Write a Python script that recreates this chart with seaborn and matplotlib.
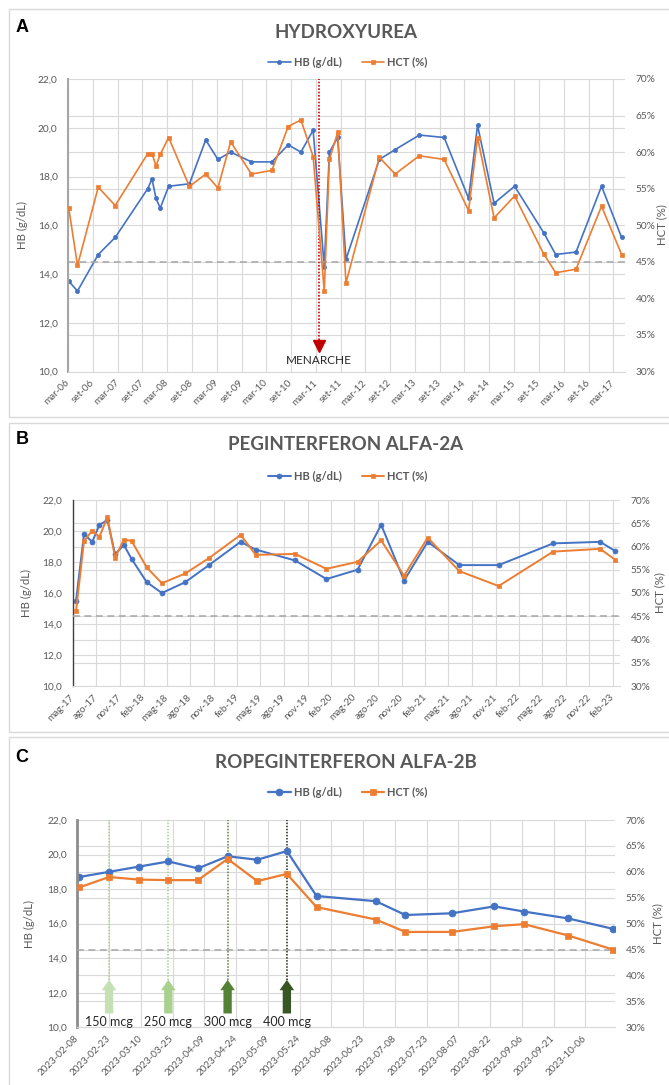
import numpy as np
import pandas as pd
import matplotlib
matplotlib.use("Agg")
import matplotlib.pyplot as plt
import matplotlib.dates as mdates
from matplotlib.ticker import FuncFormatter, FixedLocator
from matplotlib.patches import Rectangle
import seaborn as sns

# ---------------- DATA ----------------
# Panel A - Hydroxyurea
A_dates = ["2006-03-07", "2006-05-10", "2006-10-10", "2007-02-12", "2007-10-10", "2007-11-10",
           "2007-12-10", "2008-01-10", "2008-03-12", "2008-08-12", "2008-12-10", "2009-03-10",
           "2009-06-12", "2009-11-12", "2010-04-12", "2010-08-10", "2010-11-12", "2011-02-10",
           "2011-05-03", "2011-06-10", "2011-08-10", "2011-10-10", "2012-06-12", "2012-10-06",
           "2013-04-03", "2013-10-03", "2014-04-01", "2014-06-06", "2014-10-06", "2015-03-06",
           "2015-10-06", "2016-01-03", "2016-06-01", "2016-12-06", "2017-05-03"]
A_hb = [13.7, 13.3, 14.8, 15.5, 17.5, 17.9, 17.1, 16.7, 17.6, 17.7, 19.5, 18.7,
        19.0, 18.6, 18.6, 19.3, 19.0, 19.9, 14.3, 19.0, 19.6, 14.6, 18.7, 19.1,
        19.7, 19.6, 17.1, 20.1, 16.9, 17.6, 15.7, 14.8, 14.9, 17.6, 15.5]
A_hct = [52.3, 44.5, 55.2, 52.7, 59.8, 59.8, 58.1, 59.7, 62.0, 55.3, 57.0, 55.1,
         61.4, 57.0, 57.5, 63.5, 64.4, 59.4, 41.0, 59.0, 62.7, 42.1, 59.3, 57.0,
         59.5, 59.0, 52.0, 62.0, 51.0, 54.0, 46.1, 43.5, 44.0, 52.6, 46.0]
A_ticklabels = ["mar-06", "set-06", "mar-07", "set-07", "mar-08", "set-08", "mar-09", "set-09",
                "mar-10", "set-10", "mar-11", "set-11", "mar-12", "set-12", "mar-13", "set-13",
                "mar-14", "set-14", "mar-15", "set-15", "mar-16", "set-16", "mar-17"]
A_first_tick = "2006-03-01"
A_xlim = ("2006-03-01", "2017-05-28")
MENARCHE_DATE = "2011-03-22"
MENARCHE_LABEL = "MENARCHE"

# Panel B - Peginterferon alfa-2a
B_dates = ["2017-05-14", "2017-06-14", "2017-07-16", "2017-08-13", "2017-09-13", "2017-10-13",
           "2017-11-16", "2017-12-16", "2018-02-13", "2018-04-13", "2018-07-13", "2018-10-13",
           "2019-02-13", "2019-04-13", "2019-09-13", "2020-01-13", "2020-05-13", "2020-08-13",
           "2020-11-10", "2021-02-10", "2021-06-13", "2021-11-13", "2022-06-13", "2022-12-13",
           "2023-02-10"]
B_hb = [15.5, 19.8, 19.3, 20.4, 20.7, 18.5, 19.1, 18.2, 16.7, 16.0, 16.7, 17.8,
        19.3, 18.8, 18.1, 16.9, 17.5, 20.4, 16.8, 19.3, 17.8, 17.8, 19.2, 19.3, 18.7]
B_hct = [46.1, 61.2, 63.4, 62.1, 66.3, 57.6, 61.5, 61.2, 55.5, 52.1, 54.2, 57.5,
         62.5, 58.2, 58.4, 55.2, 56.7, 61.3, 53.7, 61.9, 54.7, 51.5, 58.9, 59.5, 57.1]
B_ticklabels = ["mag-17", "ago-17", "nov-17", "feb-18", "mag-18", "ago-18", "nov-18", "feb-19",
                "mag-19", "ago-19", "nov-19", "feb-20", "mag-20", "ago-20", "nov-20", "feb-21",
                "mag-21", "ago-21", "nov-21", "feb-22", "mag-22", "ago-22", "nov-22", "feb-23"]
B_first_tick = "2017-05-01"
B_xlim = ("2017-05-01", "2023-02-28")

# Panel C - Ropeginterferon alfa-2b
C_dates = ["2023-02-09", "2023-02-23", "2023-03-09", "2023-03-23", "2023-04-06", "2023-04-20",
           "2023-05-04", "2023-05-18", "2023-06-01", "2023-06-29", "2023-07-13", "2023-08-04",
           "2023-08-24", "2023-09-07", "2023-09-28", "2023-10-19"]
C_hb = [18.7, 19.0, 19.3, 19.6, 19.2, 19.9, 19.7, 20.2, 17.6, 17.3, 16.5, 16.6,
        17.0, 16.7, 16.3, 15.7]
C_hct = [57.0, 59.0, 58.5, 58.4, 58.4, 62.5, 58.2, 59.6, 53.2, 50.8, 48.4, 48.4,
         49.5, 49.9, 47.7, 45.0]
C_ticklabels = ["2023-02-08", "2023-02-23", "2023-03-10", "2023-03-25", "2023-04-09", "2023-04-24",
                "2023-05-09", "2023-05-24", "2023-06-08", "2023-06-23", "2023-07-08", "2023-07-23",
                "2023-08-07", "2023-08-22", "2023-09-06", "2023-09-21", "2023-10-06"]
C_xlim = ("2023-02-08", "2023-10-20")
C_dose_labels = ["150 mcg", "250 mcg", "300 mcg", "400 mcg"]
C_dose_dates = ["2023-02-23", "2023-03-23", "2023-04-20", "2023-05-18"]

HCT_THRESHOLD = 45  # %
HB_RANGE = (10, 22)
HCT_RANGE = (30, 70)

# ---------------- STYLE ----------------
sns.set_theme(style="white")
plt.rcParams["font.family"] = ["Lato", "DejaVu Sans"]

W, H = 669, 1085
fig = plt.figure(figsize=(W / 100, H / 100), dpi=100)
fig.patch.set_facecolor("white")

BLUE = "#4472C4"
ORANGE = "#ED7D31"
GRID = "#D9D9D9"
TXT = "#595959"
DASH = "#A6A6A6"


def px_rect(l, t, r, b):
    return [l / W, 1 - b / H, (r - l) / W, (b - t) / H]


def fx(x):
    return x / W


def fy(y):
    return 1 - y / H


comma_fmt = FuncFormatter(lambda v, p: f"{v:.1f}".replace(".", ","))
pct_fmt = FuncFormatter(lambda v, p: f"{v:.0f}%")

# panel frames
for (t, b) in [(9, 417), (423, 732), (737, 1090)]:
    fig.patches.append(Rectangle((fx(9), fy(b)), 1.2, (b - t) / H, transform=fig.transFigure,
                                 fill=False, edgecolor="#D9D9D9", lw=1.0))


def build_panel(rect, dates, hb, hct, ticks, ticklabels, xlim, title, letter, ly, ty, legy,
                hcty, ms_o, ms_s, lw, spine_col, spine_lw, hbx, hctx):
    df = pd.DataFrame({"date": pd.to_datetime(dates), "hb": hb, "hct": hct})
    ax = fig.add_axes(px_rect(*rect))
    ax2 = ax.twinx()

    sns.lineplot(data=df, x="date", y="hb", ax=ax, color=BLUE, marker="o", markersize=ms_o,
                 markeredgecolor=BLUE, markeredgewidth=0.5, linewidth=lw, legend=False,
                 estimator=None, sort=False)
    hb_line = ax.lines[-1]
    sns.lineplot(data=df, x="date", y="hct", ax=ax2, color=ORANGE, marker="s", markersize=ms_s,
                 markeredgecolor=ORANGE, markeredgewidth=0.5, linewidth=lw, legend=False,
                 estimator=None, sort=False)
    hct_line = ax2.lines[-1]
    ax2.axhline(HCT_THRESHOLD, color=DASH, lw=1.1, ls=(0, (4.5, 3)), zorder=1)

    ax.set_ylim(*HB_RANGE)
    ax2.set_ylim(*HCT_RANGE)
    hb_ticks = np.arange(HB_RANGE[0], HB_RANGE[1] + 0.01, 2)
    hct_ticks = np.arange(HCT_RANGE[0], HCT_RANGE[1] + 0.01, 5)
    ax.yaxis.set_major_locator(FixedLocator(hb_ticks))
    # secondary gridlines drawn on the primary axis at the equivalent positions
    ax.yaxis.set_minor_locator(FixedLocator(np.interp(hct_ticks, HCT_RANGE, HB_RANGE)))
    ax2.yaxis.set_major_locator(FixedLocator(hct_ticks))
    ax.yaxis.set_major_formatter(comma_fmt)
    ax2.yaxis.set_major_formatter(pct_fmt)

    ax.set_xlim(pd.to_datetime(xlim[0]), pd.to_datetime(xlim[1]))
    ax.set_xticks(ticks)
    ax.set_xticklabels(ticklabels, rotation=45, ha="right", va="center",
                       rotation_mode="anchor")
    ax.set_xlabel("")
    ax2.set_ylabel("")

    ax.grid(True, which="major", axis="both", color=GRID, lw=0.8)
    ax.grid(True, which="minor", axis="y", color=GRID, lw=0.8)
    ax2.grid(False)
    ax.set_axisbelow(True)

    ax.tick_params(axis="y", which="both", length=0, pad=7.5, labelsize=7.3, labelcolor=TXT)
    ax.tick_params(axis="x", length=3, width=0.8, color=GRID, pad=4, labelsize=7.1,
                   labelcolor=TXT, direction="out")
    ax2.tick_params(axis="y", length=0, pad=7.5, labelsize=7.3, labelcolor=TXT)

    for s in ["top", "right"]:
        ax.spines[s].set_visible(False)
    for s in ax2.spines.values():
        s.set_visible(False)
    ax.spines["bottom"].set_color(GRID)
    ax.spines["bottom"].set_linewidth(0.8)
    ax.spines["left"].set_color(spine_col)
    ax.spines["left"].set_linewidth(spine_lw)

    ax.set_ylabel("HB (g/dL)", fontsize=8.2, color=TXT)
    ax.yaxis.set_label_coords(fx(hbx), 0.5 * (fy(rect[1]) + fy(rect[3])), transform=fig.transFigure)
    fig.text(fx(hctx), fy(hcty), "HCT (%)", rotation=90, ha="center", va="center",
             fontsize=8.2, color=TXT)

    fig.text(fx(346), fy(ty), title, ha="center", va="center", fontsize=13.5,
             fontweight="bold", color=TXT)
    fig.text(fx(22), fy(ly), letter, ha="center", va="center", fontsize=13,
             fontweight="bold", color="black", family="Liberation Sans")
    fig.legend([hb_line, hct_line], ["HB (g/dL)", "HCT (%)"], loc="center",
               bbox_to_anchor=(fx(348), fy(legy)), ncol=2, frameon=False, handlelength=2.0,
               handletextpad=0.3, columnspacing=1.8, labelcolor=TXT,
               prop={"weight": "bold", "size": 8})
    return ax, ax2


# ---------- Panel A ----------
A_ticks = pd.date_range(A_first_tick, periods=len(A_ticklabels), freq="6MS")
axA, axA2 = build_panel((68, 79, 625, 371.5), A_dates, A_hb, A_hct, A_ticks, A_ticklabels, A_xlim,
                        "HYDROXYUREA", "A", 27, 32, 62, 225, 3.0, 3.4, 1.2, "#A6A6A6", 1.5, 28, 662)
md = pd.to_datetime(MENARCHE_DATE)
axA.vlines(md, 11.3, HB_RANGE[1], colors="#E00000", linestyles=(0, (1, 1)), lw=1.2, zorder=5)
axA.plot([md], [11.05], marker="v", markersize=9, color="#C00000", zorder=6)
axA.text(md, 10.47, MENARCHE_LABEL, ha="center", va="center", fontsize=8.5, color="#262626")

# ---------- Panel B ----------
B_ticks = pd.date_range(B_first_tick, periods=len(B_ticklabels), freq="3MS")
build_panel((72.7, 500, 620, 686), B_dates, B_hb, B_hct, B_ticks, B_ticklabels, B_xlim,
            "PEGINTERFERON ALFA-2A", "B", 440, 445, 476, 593, 3.6, 3.2, 1.4, "#404040", 1.0, 32, 660)

# ---------- Panel C ----------
C_ticks = pd.to_datetime(C_ticklabels)
axC, axC2 = build_panel((77.3, 820, 615, 1027.3), C_dates, C_hb, C_hct, C_ticks, C_ticklabels,
                        C_xlim, "ROPEGINTERFERON ALFA-2B", "C", 757, 762, 792, 924, 5.0, 4.6, 1.6,
                        "#8C8C8C", 2.0, 35, 658)
dose_line_cols = ["#A9D18E", "#A9D18E", "#548235", "#1E2B14"]
dose_arrow_cols = ["#C5E0B4", "#A9D18E", "#548235", "#375623"]
for lab, d, lc, acol in zip(C_dose_labels, C_dose_dates, dose_line_cols, dose_arrow_cols):
    dn = mdates.date2num(pd.to_datetime(d))
    axC.vlines(dn, 12.75, HB_RANGE[1], colors=lc, linestyles=(0, (1, 1)), lw=1.1, zorder=1.5)
    axC.annotate("", xy=(dn, 12.75), xytext=(dn, 10.8),
                 arrowprops=dict(arrowstyle="simple,head_length=0.75,head_width=1.05,tail_width=0.6",
                                 fc=acol, ec="none", mutation_scale=10, shrinkA=0, shrinkB=0),
                 zorder=4)
    axC.text(dn, 10.33, lab, ha="center", va="center", fontsize=9, color="#262626", zorder=5)

fig.savefig("out.png", dpi=100, facecolor="white")
